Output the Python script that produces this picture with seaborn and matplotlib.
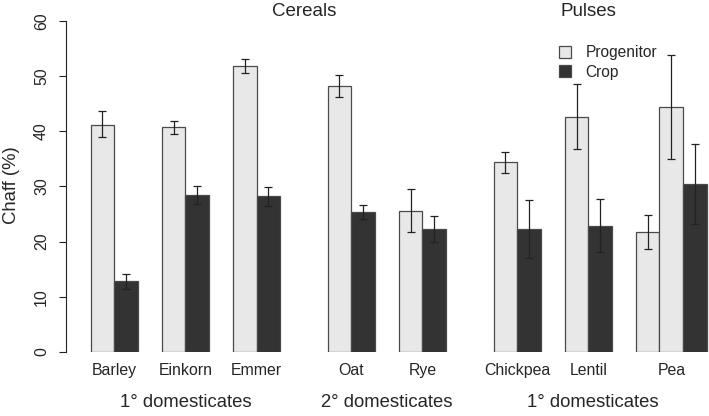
import matplotlib
matplotlib.use('Agg')
import matplotlib.pyplot as plt
import seaborn as sns
import pandas as pd

# values (Chaff %), Pea has two progenitors
crops = ['Barley', 'Einkorn', 'Emmer', 'Oat', 'Rye', 'Chickpea', 'Lentil', 'Pea']
gap_before = [0, 1, 1, 2, 1, 2, 1, 1]
bar_kinds = [['Progenitor', 'Crop']] * 7 + [['Progenitor', 'Progenitor', 'Crop']]
chaff = [[41.2, 12.8], [40.7, 28.4], [51.8, 28.2], [48.1, 25.3], [25.6, 22.3],
         [34.4, 22.3], [42.5, 22.9], [21.7, 44.4, 30.4]]
err_low = [[39.0, 11.5], [39.5, 26.8], [50.5, 26.5], [46.1, 24.0], [21.7, 19.9],
           [32.4, 17.1], [36.7, 18.1], [18.6, 35.0, 23.2]]
err_high = [[43.6, 14.1], [41.8, 30.1], [53.1, 29.8], [50.1, 26.6], [29.6, 24.7],
            [36.3, 27.5], [48.5, 27.7], [24.8, 53.8, 37.7]]

groups = ['1° domesticates', '2° domesticates', '1° domesticates']
group_members = [['Barley', 'Einkorn', 'Emmer'], ['Oat', 'Rye'], ['Chickpea', 'Lentil', 'Pea']]
headers = ['Cereals', 'Pulses']
header_at = [('Emmer', 'Oat'), ('Lentil', 'Lentil')]

# build long table with bar slot positions (R-style beside barplot)
rows = []
slot = 0
crop_centers = {}
for crop, gap, kinds, vals, lo, hi in zip(crops, gap_before, bar_kinds, chaff, err_low, err_high):
    slot += gap
    start = slot
    for kind, v, l, h in zip(kinds, vals, lo, hi):
        rows.append({'crop': crop, 'kind': kind, 'pos': slot + 0.5, 'chaff': v, 'lo': l, 'hi': h})
        slot += 1
    crop_centers[crop] = (start + slot) / 2
df = pd.DataFrame(rows)

sns.set_style('white')
plt.rcParams['font.family'] = ['Liberation Sans', 'DejaVu Sans']

W, H = 709, 416
fig = plt.figure(figsize=(W / 100, H / 100), dpi=100)
ax = fig.add_axes([65.7 / W, (H - 352) / H, (W - 65.7) / W, (352 - 20.7) / H])

sns.barplot(data=df, x='pos', y='chaff', hue='kind', native_scale=True, dodge=False,
            width=1.0, palette={'Progenitor': '#e8e8e8', 'Crop': '#333333'},
            edgecolor='#4a4a4a', linewidth=0.9, errorbar=None, ax=ax)

ax.errorbar(df['pos'], df['chaff'], yerr=[df['chaff'] - df['lo'], df['hi'] - df['chaff']],
            fmt='none', ecolor='#222222', elinewidth=0.9, capsize=3, capthick=0.9, clip_on=False)

ax.set_xlim(-1.05, (W - 90.7) / 23.7)
ax.set_ylim(0, 60)
ax.set_yticks(range(0, 61, 10))
ax.set_yticklabels([str(t) for t in range(0, 61, 10)], rotation=90, va='center', fontsize=11.4)
ax.tick_params(axis='y', length=5, width=0.8, color='#222222', pad=7, left=True)
ax.set_xticks([crop_centers[c] for c in crops])
ax.set_xticklabels(crops, fontsize=11.4)
ax.tick_params(axis='x', length=0, pad=8)
for s in ['top', 'right', 'bottom']:
    ax.spines[s].set_visible(False)
ax.spines['left'].set_bounds(0, 60)
ax.spines['left'].set_color('#222222')
ax.spines['left'].set_linewidth(0.8)
ax.set_xlabel('')
ax.set_ylabel('')

# group labels under the tick labels
for g, members in zip(groups, group_members):
    xc = sum(crop_centers[m] for m in members) / len(members)
    ax.text(xc, -9.2, g, ha='center', va='center', fontsize=13.3, clip_on=False)

for h, (a, b) in zip(headers, header_at):
    ax.text((crop_centers[a] + crop_centers[b]) / 2, 61.6, h, ha='center', va='center',
            fontsize=13.5, clip_on=False)

fig.text(12 / W, 1 - 185 / H, 'Chaff (%)', rotation=90, ha='center', va='center', fontsize=13.3)

handles, labels = ax.get_legend_handles_labels()
ax.legend(handles, labels, loc='upper left', bbox_to_anchor=(545 / W, 1 - 31 / H),
          bbox_transform=fig.transFigure, frameon=False, fontsize=11.2,
          handlelength=0.8, handleheight=0.8, handletextpad=0.9, labelspacing=0.3)

fig.savefig('out.png', dpi=100)
